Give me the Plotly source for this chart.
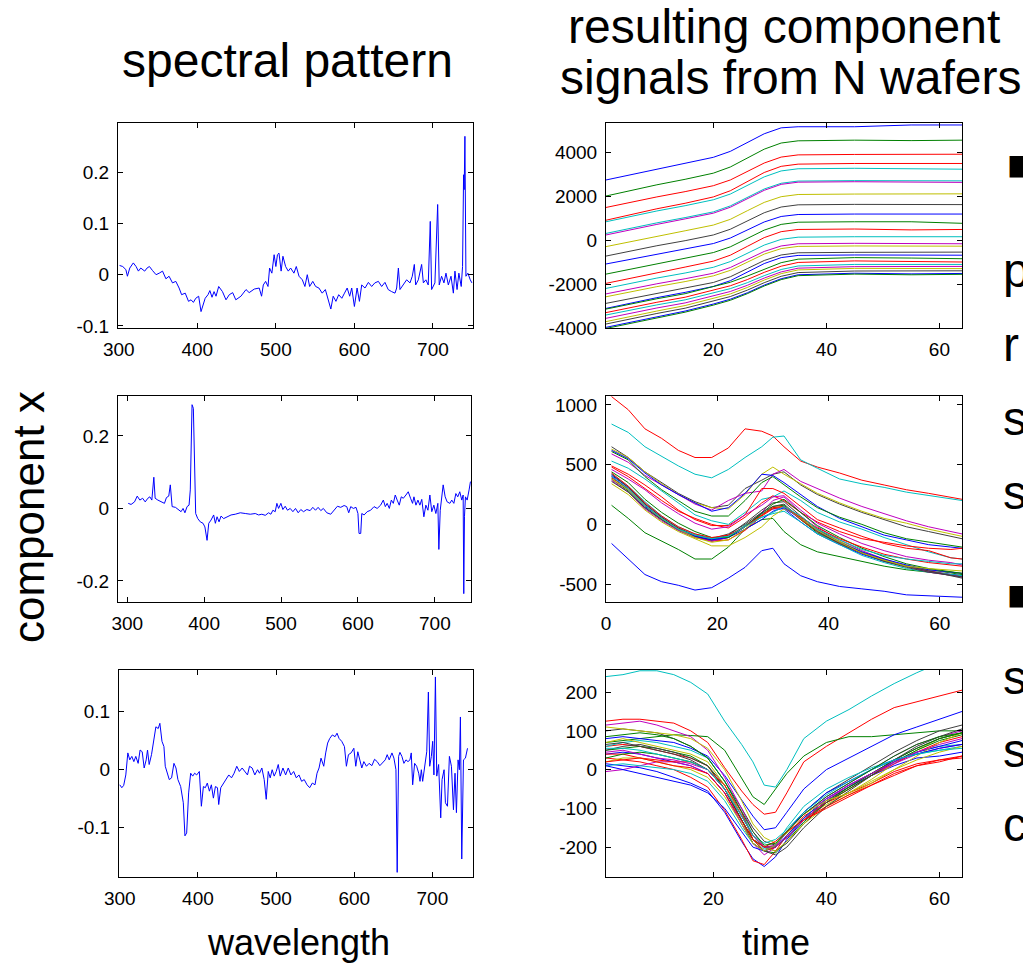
import plotly.graph_objects as go

W, H = 1023, 965
FONT = "Liberation Sans, Arial, Helvetica, sans-serif"

# ---------------- spectral patterns (left column) ----------------
wl_1 = [301, 305, 309, 311, 314, 318.5, 322, 325, 328, 333,
        336, 339, 343, 347.5, 351.5, 355.7, 360, 364, 368.4, 372.6,
        376.8, 380, 384.6, 388.8, 392, 395, 398, 401.7, 404.7, 406.8,
        410, 413.6, 416, 418.7, 421.3, 423.8, 427.2, 432, 436.5, 440.7,
        445, 449, 455.5, 462, 466, 472.5, 478.8, 481.8, 484, 487,
        490, 492, 494.9, 497.8, 500, 502, 504, 506.7, 509, 512.4,
        515.8, 518.8, 523, 526, 529.5, 533.7, 537, 540, 543, 547,
        550.6, 554.8, 559, 563, 567.5, 570, 573, 576.5, 580, 584,
        587.4, 590.8, 594, 596.6, 600, 603.4, 606.4, 609.3, 613.5, 617.8,
        622, 626, 630.5, 634.7, 638.9, 643, 647.4, 651.7, 653.8, 656,
        658, 662.3, 666.5, 670.8, 673.7, 676.3, 678, 681.4, 685.6, 687.8,
        691, 694, 696.6, 698.3, 702.5, 706, 708, 711, 714, 716.6,
        719.6, 723, 726, 728, 730.7, 733, 736, 737.7, 739, 739.8,
        740.7, 742, 744.5, 747.5, 749.6]
sp_1 = [0.018, 0.016, 0.010, -0.003, 0.013, 0.023, 0.016, 0.007, 0.013, 0.007,
        0.013, 0.016, 0.008, 0.000, 0.003, 0.007, -0.008, -0.003, -0.016, -0.013,
        -0.026, -0.039, -0.036, -0.052, -0.049, -0.054, -0.046, -0.042, -0.072, -0.062,
        -0.046, -0.039, -0.031, -0.044, -0.033, -0.042, -0.023, -0.033, -0.049, -0.039,
        -0.035, -0.049, -0.042, -0.029, -0.035, -0.028, -0.026, -0.042, -0.020, -0.013,
        -0.023, 0.013, 0.003, 0.039, 0.016, 0.039, 0.042, 0.007, 0.036, 0.016,
        0.007, 0.013, 0.003, 0.016, -0.003, -0.010, -0.023, 0.000, -0.023, -0.013,
        -0.023, -0.026, -0.036, -0.029, -0.055, -0.067, -0.042, -0.052, -0.039, -0.046,
        -0.036, -0.026, -0.042, -0.026, -0.062, -0.026, -0.052, -0.020, -0.026, -0.015,
        -0.023, -0.016, -0.013, -0.023, -0.015, -0.029, -0.033, -0.036, -0.026, 0.013,
        -0.029, -0.020, -0.010, -0.016, -0.003, 0.020, -0.020, -0.010, 0.020, -0.016,
        -0.010, -0.020, 0.104, -0.029, -0.016, 0.137, -0.020, -0.003, -0.016, 0.003,
        -0.020, -0.003, -0.036, 0.007, -0.029, 0.003, -0.023, 0.016, 0.195, 0.166,
        0.270, -0.003, 0.003, -0.010, -0.016]

wl_2 = [301.3, 305, 309.5, 313, 316.4, 320, 323.4, 326.8, 329.4, 332,
        334.6, 336.3, 339.8, 344, 348.4, 351, 354, 356, 358.4, 362.7,
        367, 370, 372.6, 375, 377.8, 380.4, 382, 384.3, 386, 387.4,
        389, 391.7, 395, 398.6, 401, 403.8, 406, 409, 412.4, 414.6,
        416.8, 419.4, 422, 425.4, 429.7, 435, 440.5, 447, 453.5, 460,
        466.5, 470.8, 475, 479.5, 483.8, 486.8, 489.4, 492.4, 494.6, 496.8,
        499.8, 502.4, 505.4, 508.4, 511.9, 515.4, 518.8, 522.3, 525.7, 529.2,
        533.5, 537.8, 541.3, 544.8, 548.2, 551.7, 555, 559.5, 564.6, 569,
        573.3, 577.6, 582, 585.4, 588, 590.6, 594, 597.5, 600, 601.4,
        603.6, 605, 608, 612, 616.5, 620.9, 625, 629.5, 633, 635.6,
        638, 640.8, 643.4, 646, 648.5, 651, 653.7, 656.3, 659, 662.4,
        665.4, 668.4, 671, 672.8, 675.4, 678, 680.5, 683, 685.7, 688.3,
        691, 693.5, 696, 698.7, 701.3, 703.9, 705.2, 707, 709, 710.8,
        713.4, 716, 719.5, 722, 724.7, 727.3, 729.8, 732.4, 735, 736.8,
        737.6, 738.5, 739.8, 742, 744.5, 746.3]
sp_2 = [0.014, 0.011, 0.018, 0.034, 0.023, 0.028, 0.018, 0.028, 0.032, 0.023,
        0.086, 0.028, 0.023, 0.018, 0.014, 0.030, 0.034, 0.065, 0.005, 0.003,
        -0.005, -0.009, 0.000, -0.012, 0.005, 0.009, 0.051, 0.286, 0.276, 0.097,
        -0.014, -0.028, -0.037, -0.041, -0.051, -0.088, -0.041, -0.032, -0.018, -0.041,
        -0.023, -0.037, -0.021, -0.028, -0.023, -0.018, -0.016, -0.012, -0.014, -0.016,
        -0.014, -0.018, -0.016, -0.019, -0.012, -0.016, -0.005, -0.009, 0.014, 0.000,
        0.014, -0.003, 0.006, -0.005, 0.000, -0.009, 0.000, -0.012, -0.003, -0.009,
        -0.003, -0.006, 0.003, -0.005, 0.003, -0.006, 0.000, -0.012, -0.016, -0.005,
        0.006, 0.003, 0.008, 0.005, -0.012, 0.005, 0.000, 0.003, -0.014, -0.069,
        -0.069, -0.014, -0.018, -0.009, -0.005, 0.005, 0.000, 0.009, 0.023, 0.005,
        0.014, 0.000, 0.023, 0.014, 0.037, 0.023, 0.009, 0.032, 0.028, 0.037,
        0.046, 0.028, 0.014, 0.032, 0.009, 0.023, 0.009, 0.025, -0.023, 0.009,
        -0.005, 0.037, -0.009, 0.009, -0.014, 0.014, -0.113, -0.005, 0.041, 0.065,
        0.032, 0.018, 0.014, 0.023, 0.014, 0.041, 0.032, 0.046, 0.023, 0.037,
        -0.235, -0.023, 0.032, 0.023, 0.051, 0.074]

wl_3 = [300, 302.6, 305, 307.7, 310.3, 312.8, 315.4, 318, 320.5, 323.5,
        326, 328.7, 331.2, 333.8, 335.5, 337.6, 340.6, 343.6, 346.2, 349.2,
        351.3, 354, 356.5, 358.2, 360.7, 363.3, 366.3, 369.3, 371.9, 374.4,
        377.9, 381.3, 383.4, 385.6, 388.1, 390.7, 393.3, 395.8, 398.4, 401.8,
        404.4, 407, 409.5, 412, 414.7, 417.2, 419.8, 422.4, 425, 426.6,
        429.2, 432.6, 436, 439.5, 443, 446.3, 449.7, 453, 456.6, 460,
        463.4, 466, 469.4, 472.8, 476.3, 478.8, 481.8, 484.8, 487.4, 490,
        492.5, 495, 497.6, 500.2, 502.8, 505.3, 508.8, 512.2, 515.6, 519,
        522.5, 525.9, 529.3, 532.7, 536, 539.6, 543, 546.4, 549.8, 552.4,
        555, 557.5, 561, 563.5, 566, 568.7, 572, 575.5, 578, 580.6,
        584, 587.5, 590, 592.6, 596, 599.5, 602, 604.6, 607, 609.7,
        612.3, 615.7, 619, 622.6, 626, 629.4, 632.8, 636.3, 639.7, 642.2,
        644.8, 648.3, 650.8, 653.4, 655, 656.8, 658.5, 661, 663.6, 666.2,
        668.8, 671.3, 673, 674.8, 677.3, 679.9, 682.5, 684.2, 685.9, 687.6,
        690.2, 692.8, 694.9, 696.6, 698.7, 700.4, 702, 703.9, 705.6, 708,
        710.7, 712.4, 715, 716.7, 719.3, 721.8, 724.4, 727, 729, 730.8,
        732.9, 734.6, 735.9, 737.6, 739.8, 742.3, 745]
sp_3 = [-0.026, -0.031, -0.027, -0.009, 0.029, 0.017, 0.023, 0.014, 0.023, 0.011,
        0.034, 0.031, 0.003, 0.017, 0.034, 0.009, 0.026, 0.051, 0.074, 0.071,
        0.080, 0.049, 0.040, 0.006, -0.006, -0.017, -0.014, 0.011, 0.003, -0.017,
        -0.029, -0.057, -0.114, -0.109, -0.040, -0.006, -0.011, -0.006, -0.009, -0.003,
        -0.063, -0.029, -0.031, -0.023, -0.037, -0.026, -0.049, -0.029, -0.031, -0.060,
        -0.031, -0.023, -0.017, -0.009, -0.014, -0.006, 0.006, -0.003, 0.003, -0.003,
        -0.009, 0.006, 0.003, -0.009, 0.000, -0.006, 0.003, -0.017, -0.051, -0.003,
        -0.014, 0.000, -0.011, -0.003, 0.009, -0.011, 0.003, -0.009, 0.003, -0.009,
        -0.003, -0.014, -0.009, -0.020, -0.017, -0.026, -0.031, -0.023, -0.026, -0.006,
        0.003, 0.020, 0.006, 0.029, 0.046, 0.054, 0.060, 0.057, 0.063, 0.054,
        0.049, 0.040, 0.006, 0.026, 0.029, 0.037, 0.006, 0.031, 0.017, 0.003,
        0.014, 0.006, 0.011, 0.007, 0.018, 0.014, 0.007, 0.013, 0.017, 0.026,
        0.017, 0.029, 0.020, 0.000, -0.177, 0.023, 0.030, 0.023, 0.011, 0.017,
        0.014, 0.017, 0.029, -0.026, 0.011, 0.006, -0.006, -0.020, 0.000, -0.020,
        0.006, 0.031, 0.134, 0.006, 0.023, 0.049, -0.009, 0.160, -0.011, 0.009,
        -0.083, -0.017, 0.000, -0.057, -0.063, 0.023, 0.006, -0.069, -0.006, -0.074,
        0.017, 0.000, 0.091, -0.154, 0.017, 0.020, 0.037]

# ---------------- component signals (right column) ----------------
t_top = [1, 5, 10, 15, 20, 23, 26, 29, 32, 35, 45, 55, 64]
sig_top = [
    [2730, 2950, 3230, 3480, 3760, 4030, 4430, 4830, 5100, 5150, 5150, 5230, 5230],
    [2000, 2230, 2510, 2760, 3040, 3320, 3730, 4130, 4410, 4510, 4540, 4520, 4540],
    [1480, 1700, 1960, 2200, 2470, 2730, 3120, 3500, 3770, 3870, 3890, 3880, 3900],
    [900, 1130, 1420, 1670, 1960, 2240, 2650, 3070, 3350, 3450, 3480, 3480, 3480],
    [830, 1050, 1320, 1560, 1830, 2090, 2480, 2870, 3140, 3240, 3260, 3250, 3220],
    [300, 520, 780, 1020, 1280, 1550, 1930, 2320, 2580, 2680, 2700, 2700, 2690],
    [230, 450, 710, 960, 1220, 1490, 1880, 2260, 2530, 2630, 2650, 2620, 2620],
    [-300, -85, 180, 420, 680, 940, 1330, 1710, 1970, 2070, 2090, 2090, 2100],
    [-730, -520, -260, -30, 230, 490, 870, 1240, 1500, 1600, 1620, 1620, 1610],
    [-1090, -890, -640, -410, -160, 90, 450, 820, 1070, 1160, 1180, 1180, 1180],
    [-1550, -1340, -1070, -840, -570, -310, 70, 450, 710, 810, 830, 830, 760],
    [-1970, -1750, -1480, -1230, -960, -690, -290, 110, 380, 480, 500, 460, 480],
    [-2200, -1990, -1730, -1500, -1240, -980, -600, -230, 30, 130, 150, 150, 150],
    [-2450, -2240, -1990, -1760, -1510, -1250, -890, -520, -270, -170, -150, -150, -170],
    [-2580, -2370, -2120, -1890, -1630, -1380, -1010, -640, -390, -290, -270, -280, -280],
    [-2880, -2670, -2420, -2180, -1930, -1670, -1300, -930, -680, -580, -560, -570, -550],
    [-3110, -2890, -2620, -2380, -2110, -1850, -1460, -1070, -800, -700, -680, -690, -690],
    [-3140, -2930, -2670, -2440, -2130, -1920, -1640, -1320, -1030, -870, -800, -820, -850],
    [-3300, -3090, -2830, -2600, -2290, -2080, -1800, -1470, -1190, -1020, -950, -980, -1000],
    [-3410, -3200, -2950, -2720, -2420, -2210, -1940, -1620, -1340, -1180, -1110, -1100, -1110],
    [-3560, -3350, -3090, -2860, -2550, -2340, -2060, -1730, -1450, -1280, -1210, -1220, -1200],
    [-3710, -3490, -3230, -2980, -2670, -2450, -2160, -1820, -1530, -1360, -1290, -1290, -1300],
    [-3820, -3600, -3340, -3100, -2780, -2570, -2280, -1940, -1650, -1480, -1410, -1420, -1400],
    [-3970, -3750, -3480, -3230, -2910, -2690, -2400, -2050, -1760, -1580, -1510, -1540, -1520],
    [-4020, -3800, -3530, -3280, -2960, -2740, -2440, -2090, -1800, -1620, -1550, -1580, -1560],
]

t_mid = [1, 4, 7, 10, 13, 16, 19, 22, 25, 28, 30, 32, 35, 38, 42, 46, 50, 54, 58, 62, 64]
sig_mid = [
    [1070, 960, 800, 720, 620, 560, 560, 640, 800, 780, 740, 650, 530, 480, 430, 370, 330, 290, 260, 230, 210],
    [840, 770, 650, 570, 490, 420, 390, 460, 560, 650, 730, 740, 540, 470, 380, 340, 310, 270, 240, 210, 200],
    [-160, -290, -420, -480, -510, -550, -530, -450, -360, -220, -200, -330, -430, -480, -520, -540, -560, -590, -600, -610, -610],
    [160, 50, -70, -140, -210, -290, -290, -190, -40, 40, 50, -60, -170, -230, -270, -310, -350, -380, -400, -420, -430],
    [650, 560, 440, 350, 260, 190, 140, 160, 300, 370, 420, 440, 330, 250, 170, 100, 40, -20, -60, -100, -120],
    [630, 560, 440, 340, 250, 180, 140, 130, 250, 420, 480, 420, 340, 260, 180, 110, 50, 10, -40, -80, -100],
    [590, 520, 410, 330, 250, 170, 120, 200, 260, 280, 420, 460, 360, 300, 220, 150, 90, 30, -20, -60, -80],
    [620, 550, 430, 330, 250, 180, 110, 140, 260, 420, 410, 350, 250, 150, 50, -20, -90, -130, -170, -190, -200],
    [610, 540, 400, 290, 200, 110, 70, 70, 200, 350, 400, 330, 230, 140, 60, 0, -70, -120, -150, -180, -190],
    [530, 470, 380, 280, 180, 80, 30, 0, 100, 210, 230, 280, 200, 100, 20, -40, -110, -170, -230, -280, -290],
    [490, 420, 330, 230, 120, 40, -10, -10, 80, 300, 300, 260, 150, 40, -30, -100, -160, -200, -220, -280, -290],
    [480, 400, 300, 200, 110, 50, 0, -30, 60, 180, 240, 200, 100, 20, -60, -120, -150, -180, -200, -210, -200],
    [460, 380, 290, 180, 90, 10, -40, -20, 80, 160, 230, 240, 120, 10, -80, -160, -220, -270, -300, -320, -340],
    [400, 290, 150, 50, -40, -100, -130, -100, -20, 90, 130, 130, 20, -80, -170, -250, -310, -350, -390, -420, -430],
    [380, 280, 140, 40, -50, -110, -140, -110, -10, 80, 150, 160, 40, -70, -160, -240, -300, -350, -380, -410, -420],
    [390, 300, 160, 50, -30, -100, -140, -130, -50, 70, 130, 150, 40, -60, -160, -240, -300, -350, -390, -420, -440],
    [420, 320, 190, 70, -20, -80, -120, -100, -10, 60, 90, 110, 20, -80, -170, -260, -320, -370, -400, -420, -430],
    [370, 270, 130, 30, -50, -110, -140, -110, -20, 100, 200, 230, 100, -20, -130, -220, -290, -350, -400, -430, -440],
    [340, 250, 120, 20, -60, -120, -180, -180, -110, -20, 70, 130, 60, -40, -140, -230, -300, -350, -380, -400, -410],
    [360, 270, 140, 40, -40, -100, -130, -90, 10, 120, 180, 190, 70, -40, -150, -240, -300, -350, -390, -430, -450],
    [410, 310, 170, 60, -40, -100, -130, -110, -40, 40, 110, 140, 50, -50, -150, -230, -290, -340, -380, -400, -410],
    [440, 350, 210, 100, 10, -60, -110, -110, -20, 90, 170, 210, 100, -10, -110, -200, -270, -330, -370, -400, -410],
    [420, 310, 170, 60, -30, -90, -120, -80, 0, 100, 150, 170, 50, -60, -160, -240, -310, -360, -400, -430, -440],
    [380, 290, 160, 50, -40, -110, -150, -130, -40, 80, 140, 150, 50, -50, -150, -240, -300, -350, -370, -380, -390],
    [430, 320, 180, 70, -20, -80, -110, -90, -20, 80, 140, 150, 60, -30, -120, -190, -250, -290, -320, -340, -350],
    [400, 300, 160, 50, -40, -90, -120, -100, -20, 60, 100, 150, 70, -40, -130, -210, -260, -290, -310, -330, -330],
]

t_bot = [1, 4, 7, 10, 13, 16, 19, 22, 25, 27, 29, 31, 33, 36, 40, 44, 48, 52, 56, 60, 64]
sig_bot = [
    [240, 245, 255, 255, 245, 225, 195, 125, 65, 20, -40, -45, 0, 80, 125, 155, 190, 222, 250, 275, 300],
    [125, 130, 130, 125, 120, 100, 70, 5, -55, -90, -115, -110, -60, 20, 60, 95, 130, 160, 175, 190, 205],
    [70, 75, 80, 85, 90, 88, 85, 50, -20, -70, -90, -50, -10, 35, 70, 85, 85, 90, 95, 100, 100],
    [15, 10, 5, -5, -20, -35, -55, -110, -185, -230, -250, -225, -180, -130, -80, -45, -15, 10, 30, 35, 45],
    [30, 25, 20, 10, 0, -20, -45, -105, -180, -235, -245, -210, -170, -120, -85, -60, -35, -5, 15, 25, 35],
    [80, 85, 80, 75, 70, 55, 35, -15, -80, -120, -155, -150, -110, -50, 0, 30, 60, 90, 110, 130, 150],
    [100, 105, 100, 95, 80, 60, 30, -30, -100, -150, -185, -195, -160, -110, -60, -25, 10, 45, 75, 100, 115],
    [115, 120, 125, 115, 100, 85, 50, -20, -100, -160, -200, -195, -160, -115, -70, -35, 0, 35, 65, 85, 100],
    [110, 105, 100, 95, 90, 80, 55, 0, -80, -140, -175, -190, -165, -125, -90, -60, -25, 15, 50, 80, 95],
    [60, 65, 60, 50, 40, 30, 10, -50, -130, -180, -200, -200, -175, -130, -85, -50, -15, 15, 45, 70, 85],
    [60, 70, 75, 70, 60, 50, 30, -30, -110, -170, -205, -200, -175, -125, -75, -40, -10, 20, 45, 60, 65],
    [50, 55, 60, 55, 45, 35, 10, -50, -130, -180, -210, -215, -185, -135, -85, -50, -15, 20, 50, 75, 90],
    [40, 45, 40, 30, 20, 10, -10, -60, -140, -190, -210, -200, -170, -125, -75, -40, -10, 20, 45, 60, 75],
    [50, 60, 65, 55, 45, 30, 10, -40, -120, -170, -200, -210, -190, -140, -85, -45, -10, 25, 55, 80, 95],
    [-5, 0, 10, 20, 20, 10, -10, -60, -140, -190, -220, -200, -160, -115, -75, -40, -10, 15, 40, 55, 65],
    [70, 80, 70, 60, 50, 40, 20, -40, -120, -170, -200, -210, -185, -140, -95, -65, -35, 0, 35, 70, 95],
    [40, 40, 30, 25, 20, 20, 0, -40, -110, -180, -210, -200, -175, -130, -95, -65, -40, -10, 10, 20, 35],
    [10, 15, 10, 5, 0, -10, -30, -80, -150, -190, -210, -195, -150, -95, -50, -20, 5, 25, 40, 50, 60],
    [30, 40, 45, 40, 30, 20, 0, -50, -130, -180, -200, -200, -175, -130, -80, -45, -10, 25, 55, 80, 95],
    [10, 0, -10, -20, -30, -40, -60, -100, -160, -200, -210, -195, -160, -110, -60, -30, 0, 25, 40, 55, 65],
    [65, 70, 60, 50, 40, 25, 0, -50, -130, -190, -210, -220, -200, -150, -95, -55, -15, 25, 60, 85, 105],
    [45, 50, 40, 30, 25, 15, 0, -50, -120, -170, -200, -200, -175, -130, -80, -40, -10, 20, 45, 65, 80],
    [20, 30, 30, 20, 10, 0, -20, -70, -140, -190, -210, -195, -160, -115, -80, -60, -30, 0, 25, 45, 60],
    [20, 25, 30, 20, 10, 5, -10, -60, -130, -180, -200, -185, -160, -130, -100, -70, -40, -15, 10, 25, 30],
    [55, 55, 50, 40, 30, 20, 0, -50, -120, -170, -190, -180, -155, -110, -65, -30, 0, 25, 40, 50, 55],
    [85, 90, 95, 90, 80, 60, 30, -30, -110, -160, -195, -190, -160, -115, -70, -35, 0, 35, 65, 85, 95],
]

# matlab-ish line colours
B, G, R, C, M, Y, K = "#0000ff", "#008000", "#ff0000", "#00bfbf", "#bf00bf", "#bfbf00", "#404040"
col_top = [B, G, R, R, C, C, M, Y, K, B, G, R, C, M, Y, K, B, G, R, C, M, Y, K, B, G]
col_mid = [R, C, B, G, K, Y, M, B, G, C, R, R, M, B, G, R, C, M, Y, K, B, G, K, Y, R, C]
col_bot = [C, R, G, B, R, B, K, M, Y, R, C, G, B, K, M, Y, R, C, G, B, K, M, Y, R, C, G]

fig = go.Figure()


def ax(n):
    return ("x", "y") if n == 1 else (f"x{n}", f"y{n}")


for n, wl, sp in [(1, wl_1, sp_1), (3, wl_2, sp_2), (5, wl_3, sp_3)]:
    xa, ya = ax(n)
    fig.add_trace(go.Scatter(x=wl, y=sp, mode="lines", line=dict(color=B, width=1),
                             xaxis=xa, yaxis=ya, hoverinfo="skip"))

for n, t, sig, cols in [(2, t_top, sig_top, col_top), (4, t_mid, sig_mid, col_mid),
                        (6, t_bot, sig_bot, col_bot)]:
    xa, ya = ax(n)
    for row, c in zip(sig, cols):
        fig.add_trace(go.Scatter(x=t, y=row, mode="lines", line=dict(color=c, width=1),
                                 xaxis=xa, yaxis=ya, hoverinfo="skip"))

# pixel boxes of the six axes: left, right, top, bottom
boxes = {1: (118, 473, 123, 328), 2: (606, 962, 123, 328),
         3: (118, 471, 396, 602), 4: (606, 962, 396, 602),
         5: (119, 473, 670, 877), 6: (606, 962, 670, 877)}
xranges = {1: [299, 751], 2: [1, 64], 3: [288, 747], 4: [0, 64], 5: [299, 752], 6: [1, 64]}
yranges = {1: [-0.104, 0.296], 2: [-4000, 5320], 3: [-0.258, 0.31],
           4: [-650, 1075], 5: [-0.185, 0.172], 6: [-277, 257]}
wl_ticks = [300, 400, 500, 600, 700]
xticks = {1: wl_ticks, 2: [20, 40, 60], 3: wl_ticks, 4: [0, 20, 40, 60], 5: wl_ticks, 6: [20, 40, 60]}
yticks = {1: [-0.1, 0, 0.1, 0.2], 2: [-4000, -2000, 0, 2000, 4000], 3: [-0.2, 0, 0.2],
          4: [-500, 0, 500, 1000], 5: [-0.1, 0, 0.1], 6: [-200, -100, 0, 100, 200]}

common = dict(showline=True, linecolor="black", linewidth=1, mirror="ticks",
              ticks="inside", ticklen=5, tickcolor="black", tickwidth=1,
              showgrid=False, zeroline=False, automargin=False,
              tickfont=dict(family=FONT, size=19, color="black"))

lay = {}
for n, (l, r, t, b) in boxes.items():
    sx = "" if n == 1 else str(n)
    lay["xaxis" + sx] = dict(common, domain=[l / W, r / W], range=xranges[n],
                             anchor="y" + sx, tickvals=xticks[n],
                             ticktext=[f"{v:g}" for v in xticks[n]], ticklabelstandoff=4)
    lay["yaxis" + sx] = dict(common, domain=[1 - b / H, 1 - t / H], range=yranges[n],
                             anchor="x" + sx, tickvals=yticks[n],
                             ticktext=[f"{v:g}" for v in yticks[n]], ticklabelstandoff=4)

fig.update_layout(**lay)


def note(text, px, py, size, xanchor="center", angle=0, family=FONT):
    fig.add_annotation(text=text, x=px / W, y=1 - py / H, xref="paper", yref="paper",
                       xanchor=xanchor, yanchor="middle", showarrow=False, textangle=angle,
                       font=dict(family=family, size=size, color="black"))


note("spectral pattern", 287, 60, 48)
note("resulting component", 784, 27, 48)
note("signals from N wafers", 790, 78, 48)
note("component x", 28, 517, 44, angle=-90)
note("wavelength", 298, 942, 36)
note("time", 776, 942, 36)

# text of the slide cut off at the right edge
for ch, py in [("p", 271), ("r", 345), ("s", 419), ("s", 493), ("s", 677), ("s", 750), ("c", 824)]:
    note(ch, 1001, py, 48, xanchor="left")
for py in [165, 594]:
    note("\u25a0", 1005, py, 28, xanchor="left", family="DejaVu Sans")

fig.update_layout(width=W, height=H,
                  margin=dict(l=0, r=0, t=0, b=0, pad=0, autoexpand=False),
                  paper_bgcolor="white", plot_bgcolor="white", showlegend=False)

fig.write_html("out.html", config={"displayModeBar": False},
               post_script="document.body.style.margin='0px';")
